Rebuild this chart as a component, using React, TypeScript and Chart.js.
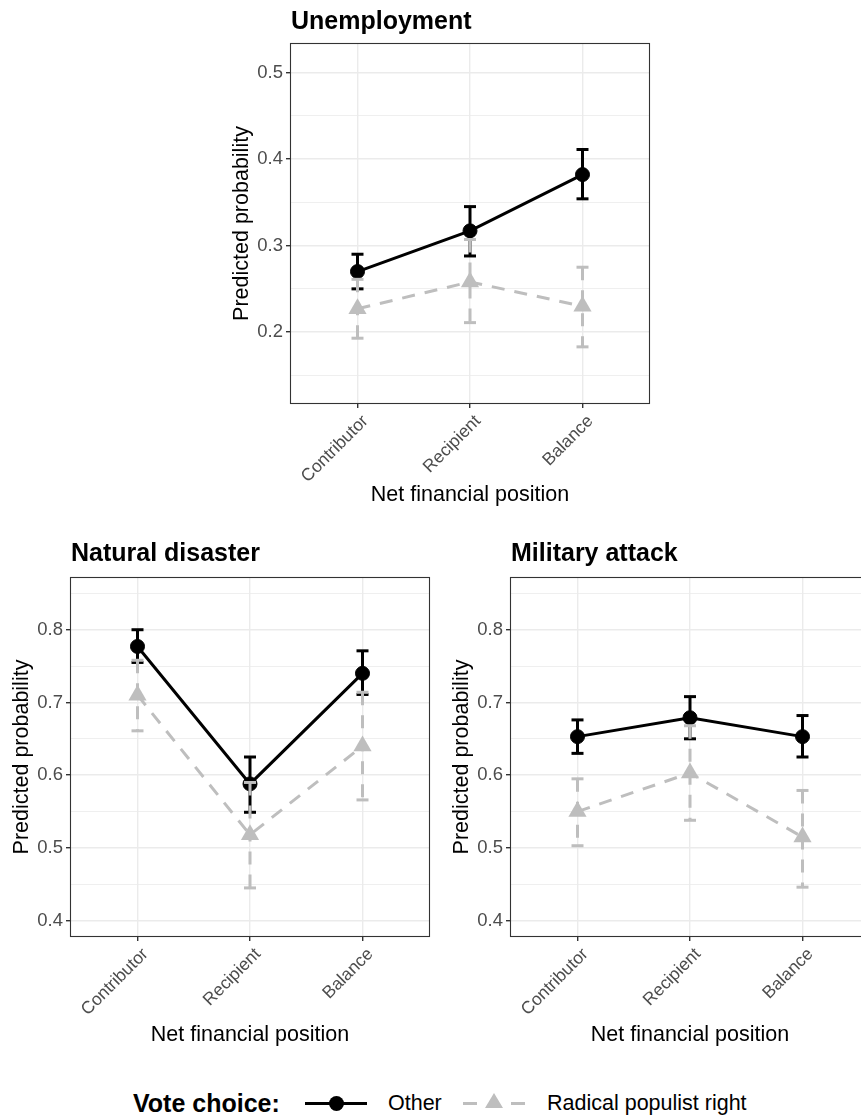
import React, { useEffect, useRef } from 'react';
import { Chart, registerables } from 'chart.js';

Chart.register(...registerables);

const FONT = '"Liberation Sans", Arial, Helvetica, sans-serif';

const CATEGORIES = ['Contributor', 'Recipient', 'Balance'];
const SERIES_NAMES = ['Other', 'Radical populist right'];
const LEGEND_TITLE = 'Vote choice:';
const X_TITLE = 'Net financial position';
const Y_TITLE = 'Predicted probability';
const PANEL_TITLES = ['Unemployment', 'Natural disaster', 'Military attack'];

// Unemployment
const UNEMP_OTHER = [0.27, 0.317, 0.382];
const UNEMP_OTHER_LOW = [0.25, 0.288, 0.354];
const UNEMP_OTHER_HIGH = [0.29, 0.345, 0.411];
const UNEMP_RPR = [0.227, 0.258, 0.23];
const UNEMP_RPR_LOW = [0.193, 0.211, 0.183];
const UNEMP_RPR_HIGH = [0.261, 0.307, 0.275];
const UNEMP_TICKS = [0.2, 0.3, 0.4, 0.5];
const UNEMP_MINOR = [0.15, 0.25, 0.35, 0.45];
const UNEMP_RANGE = [0.117, 0.534];

// Natural disaster
const DISASTER_OTHER = [0.777, 0.588, 0.74];
const DISASTER_OTHER_LOW = [0.755, 0.549, 0.711];
const DISASTER_OTHER_HIGH = [0.8, 0.625, 0.771];
const DISASTER_RPR = [0.71, 0.518, 0.64];
const DISASTER_RPR_LOW = [0.661, 0.445, 0.566];
const DISASTER_RPR_HIGH = [0.758, 0.59, 0.714];

// Military attack
const MILITARY_OTHER = [0.653, 0.679, 0.653];
const MILITARY_OTHER_LOW = [0.63, 0.65, 0.625];
const MILITARY_OTHER_HIGH = [0.676, 0.708, 0.682];
const MILITARY_RPR = [0.55, 0.603, 0.515];
const MILITARY_RPR_LOW = [0.503, 0.538, 0.446];
const MILITARY_RPR_HIGH = [0.595, 0.668, 0.579];

const LOWER_TICKS = [0.4, 0.5, 0.6, 0.7, 0.8];
const LOWER_MINOR = [0.45, 0.55, 0.65, 0.75, 0.85];
const LOWER_RANGE = [0.3775, 0.8725];

const BLACK = '#000000';
const GREY = '#BEBEBE';
const DASH = [13, 10];

type PanelCfg = {
  title: string;
  other: number[]; otherLow: number[]; otherHigh: number[];
  rpr: number[]; rprLow: number[]; rprHigh: number[];
  ticks: number[]; minor: number[]; range: number[];
  plotLeft: number; plotTop: number; plotH: number;
  titleGap: number; xTitleGap: number;
};

const PLOT_W = 360;
const PAD_L = 90;
const PAD_T = 50;
const PAD_R = 20;
const PAD_B = 115;

function Panel({ cfg }: { cfg: PanelCfg }) {
  const ref = useRef<HTMLCanvasElement | null>(null);
  const W = PAD_L + PLOT_W + PAD_R;
  const H = PAD_T + cfg.plotH + PAD_B;

  useEffect(() => {
    if (!ref.current) return;
    const isMajor = (v: number) => cfg.ticks.some((m) => Math.abs(m - v) < 1e-6);

    const decor = {
      id: 'decor',
      afterDatasetsDraw(chart: any) {
        const ctx = chart.ctx;
        const xs = chart.scales.x;
        const ys = chart.scales.y;
        const bars = (low: number[], high: number[], color: string, dash: number[]) => {
          ctx.save();
          ctx.strokeStyle = color;
          ctx.lineWidth = 3;
          ctx.lineCap = 'butt';
          ctx.setLineDash(dash);
          low.forEach((lo, i) => {
            const x = xs.getPixelForValue(i);
            const yl = ys.getPixelForValue(lo);
            const yh = ys.getPixelForValue(high[i]);
            ctx.beginPath(); ctx.moveTo(x - 6, yh); ctx.lineTo(x + 6, yh); ctx.stroke();
            ctx.beginPath(); ctx.moveTo(x, yh); ctx.lineTo(x, yl); ctx.stroke();
            ctx.beginPath(); ctx.moveTo(x - 6, yl); ctx.lineTo(x + 6, yl); ctx.stroke();
          });
          ctx.restore();
        };
        bars(cfg.otherLow, cfg.otherHigh, BLACK, []);
        bars(cfg.rprLow, cfg.rprHigh, GREY, DASH);
      },
      afterDraw(chart: any) {
        const ctx = chart.ctx;
        const a = chart.chartArea;
        ctx.save();
        ctx.strokeStyle = '#333333';
        ctx.lineWidth = 1.1;
        ctx.strokeRect(a.left + 0.5, a.top + 0.5, a.right - a.left - 1, a.bottom - a.top - 1);
        ctx.fillStyle = '#000';
        ctx.textBaseline = 'alphabetic';
        ctx.textAlign = 'left';
        ctx.font = `bold 25px ${FONT}`;
        ctx.fillText(cfg.title, a.left + 1, a.top - cfg.titleGap);
        ctx.font = `21.5px ${FONT}`;
        ctx.textAlign = 'center';
        ctx.fillText(X_TITLE, (a.left + a.right) / 2, a.bottom + cfg.xTitleGap);
        ctx.translate(a.left - 42.5, (a.top + a.bottom) / 2);
        ctx.rotate(-Math.PI / 2);
        ctx.fillText(Y_TITLE, 0, 0);
        ctx.restore();
      },
    };

    const chart = new Chart(ref.current, {
      type: 'line',
      data: {
        datasets: [
          {
            label: SERIES_NAMES[0],
            data: cfg.other.map((y, i) => ({ x: i, y })),
            borderColor: BLACK,
            backgroundColor: BLACK,
            borderWidth: 3,
            pointStyle: 'circle',
            pointRadius: 7,
            pointBorderWidth: 1,
            pointBackgroundColor: BLACK,
            pointBorderColor: BLACK,
            tension: 0,
          },
          {
            label: SERIES_NAMES[1],
            data: cfg.rpr.map((y, i) => ({ x: i, y })),
            borderColor: GREY,
            backgroundColor: GREY,
            borderWidth: 3,
            borderDash: DASH,
            pointStyle: 'triangle',
            pointRadius: 10.5,
            pointBorderWidth: 0,
            pointBackgroundColor: GREY,
            pointBorderColor: GREY,
            tension: 0,
          },
        ],
      } as any,
      options: {
        responsive: false,
        animation: false,
        events: [],
        layout: { padding: { left: 0, top: PAD_T, right: PAD_R, bottom: 0 } },
        plugins: {
          legend: { display: false },
          tooltip: { enabled: false },
          title: { display: false },
        },
        scales: {
          x: {
            type: 'linear',
            min: -0.6,
            max: 2.6,
            afterBuildTicks: (s: any) => {
              s.ticks = CATEGORIES.map((_, i) => ({ value: i }));
            },
            afterFit: (s: any) => {
              s.height = PAD_B;
            },
            ticks: {
              autoSkip: false,
              minRotation: 45,
              maxRotation: 45,
              color: '#4D4D4D',
              font: { family: FONT, size: 17.5 },
              padding: 3,
              labelOffset: 8,
              callback: (v: any) => CATEGORIES[Math.round(Number(v))] ?? '',
            },
            grid: {
              color: '#EBEBEB',
              lineWidth: 1.4,
              tickLength: 4,
              tickColor: '#333333',
              tickWidth: 1.4,
            },
            border: { display: false },
          },
          y: {
            type: 'linear',
            min: cfg.range[0],
            max: cfg.range[1],
            afterBuildTicks: (s: any) => {
              s.ticks = [...cfg.ticks, ...cfg.minor]
                .sort((p, q) => p - q)
                .map((v) => ({ value: v }));
            },
            afterFit: (s: any) => {
              s.width = PAD_L;
            },
            ticks: {
              color: '#4D4D4D',
              font: { family: FONT, size: 18.5 },
              padding: 3,
              autoSkip: false,
              callback: (v: any) => (isMajor(Number(v)) ? Number(v).toFixed(1) : ''),
            },
            grid: {
              color: '#EBEBEB',
              lineWidth: (c: any) => (c.tick && isMajor(c.tick.value) ? 1.4 : 0.8),
              tickLength: 4,
              tickColor: (c: any) => (c.tick && isMajor(c.tick.value) ? '#333333' : 'rgba(0,0,0,0)'),
              tickWidth: 1.4,
            },
            border: { display: false },
          },
        },
      } as any,
      plugins: [decor],
    });
    return () => chart.destroy();
  }, []);

  return (
    <canvas
      ref={ref}
      width={W}
      height={H}
      style={{
        position: 'absolute',
        left: cfg.plotLeft - PAD_L,
        top: cfg.plotTop - PAD_T,
        width: W,
        height: H,
      }}
    />
  );
}

const PANELS: PanelCfg[] = [
  {
    title: PANEL_TITLES[0],
    other: UNEMP_OTHER, otherLow: UNEMP_OTHER_LOW, otherHigh: UNEMP_OTHER_HIGH,
    rpr: UNEMP_RPR, rprLow: UNEMP_RPR_LOW, rprHigh: UNEMP_RPR_HIGH,
    ticks: UNEMP_TICKS, minor: UNEMP_MINOR, range: UNEMP_RANGE,
    plotLeft: 290, plotTop: 43, plotH: 361, titleGap: 14, xTitleGap: 97,
  },
  {
    title: PANEL_TITLES[1],
    other: DISASTER_OTHER, otherLow: DISASTER_OTHER_LOW, otherHigh: DISASTER_OTHER_HIGH,
    rpr: DISASTER_RPR, rprLow: DISASTER_RPR_LOW, rprHigh: DISASTER_RPR_HIGH,
    ticks: LOWER_TICKS, minor: LOWER_MINOR, range: LOWER_RANGE,
    plotLeft: 70, plotTop: 577, plotH: 360, titleGap: 16, xTitleGap: 104,
  },
  {
    title: PANEL_TITLES[2],
    other: MILITARY_OTHER, otherLow: MILITARY_OTHER_LOW, otherHigh: MILITARY_OTHER_HIGH,
    rpr: MILITARY_RPR, rprLow: MILITARY_RPR_LOW, rprHigh: MILITARY_RPR_HIGH,
    ticks: LOWER_TICKS, minor: LOWER_MINOR, range: LOWER_RANGE,
    plotLeft: 510, plotTop: 577, plotH: 360, titleGap: 16, xTitleGap: 104,
  },
];

function Legend() {
  const cy = 1103;
  return (
    <>
      <div style={{ position: 'absolute', left: 133, top: 1091, font: `bold 25px ${FONT}`, lineHeight: '25px', whiteSpace: 'nowrap', color: '#000' }}>
        {LEGEND_TITLE}
      </div>
      <div style={{ position: 'absolute', left: 305, top: cy - 1.5, width: 62, height: 3, background: BLACK }} />
      <div style={{ position: 'absolute', left: 336 - 7.5, top: cy - 7.5, width: 15, height: 15, borderRadius: '50%', background: BLACK }} />
      <div style={{ position: 'absolute', left: 388, top: 1092.5, font: `21.5px ${FONT}`, lineHeight: '21.5px', whiteSpace: 'nowrap', color: '#000' }}>
        {SERIES_NAMES[0]}
      </div>
      <div style={{ position: 'absolute', left: 463, top: cy - 1.5, width: 14, height: 3, background: GREY }} />
      <div style={{ position: 'absolute', left: 511, top: cy - 1.5, width: 14, height: 3, background: GREY }} />
      <div style={{ position: 'absolute', left: 494 - 9, top: cy - 10, width: 0, height: 0, borderLeft: '9px solid transparent', borderRight: '9px solid transparent', borderBottom: `15px solid ${GREY}` }} />
      <div style={{ position: 'absolute', left: 547, top: 1092.5, font: `21.5px ${FONT}`, lineHeight: '21.5px', whiteSpace: 'nowrap', color: '#000' }}>
        {SERIES_NAMES[1]}
      </div>
    </>
  );
}

export default function App() {
  return (
    <div style={{ position: 'absolute', left: 0, top: 0, width: 861, height: 1119, overflow: 'hidden', background: '#fff' }}>
      {PANELS.map((p, i) => (
        <Panel key={i} cfg={p} />
      ))}
      <Legend />
    </div>
  );
}
